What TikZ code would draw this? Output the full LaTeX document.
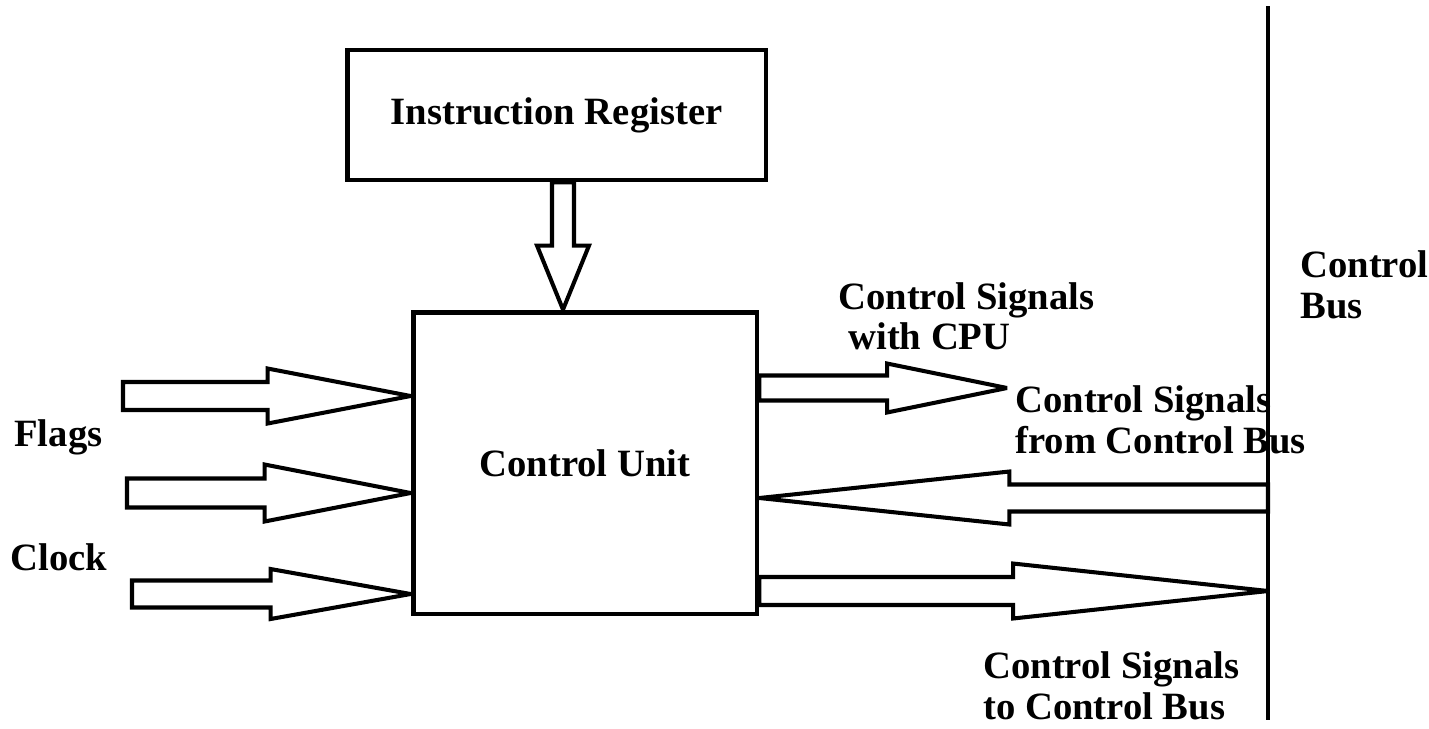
\documentclass[tikz,border=0pt]{standalone}
\usepackage{fontspec}
\setmainfont{Liberation Serif}
\usetikzlibrary{calc}

% hollow block arrow: start, tip, shaft half width, head half width, head length
\newcommand\blockarrow[5]{%
  \path (#1) coordinate (ba-s) (#2) coordinate (ba-t);
  \path ($(ba-t)!#5!(ba-s)$) coordinate (ba-h);
  \draw[hollow] ($(ba-s)!#3!90:(ba-t)$) -- ($(ba-h)!#3!90:(ba-t)$)
    -- ($(ba-h)!#4!90:(ba-t)$) -- (ba-t) -- ($(ba-h)!#4!-90:(ba-t)$)
    -- ($(ba-h)!#3!-90:(ba-t)$) -- ($(ba-s)!#3!-90:(ba-t)$) -- cycle;
}

\tikzset{
  box/.style={draw,line width=2.8pt,inner sep=0pt},
  hollow/.style={line width=2.3pt,line join=miter,miter limit=2,fill=white},
  lbl/.style={inner sep=0pt,anchor=west,align=left},
}

\begin{document}
\begin{tikzpicture}[x=0.02cm,y=-0.02cm,font=\fontsize{22}{23}\selectfont\bfseries]
	\useasboundingbox (0,0) rectangle (1429,728);
	
	%BOXES
	\node[box,minimum width=8.38cm,minimum height=2.6cm] (ir) at (556.5,115) {Instruction Register};
	\node[box,minimum width=6.88cm,minimum height=6.04cm] (cu) at (585,463) {Control Unit};
	
	%CONTROL BUS
	\coordinate (bustop) at (1268,6);
	\coordinate (busbot) at (1268,720);
	\draw[line width=2.8pt] (bustop)--(busbot);
	\coordinate (busin) at (1268,498);
	\coordinate (busout) at (1268,591);
	\coordinate (cpuout) at (1007,388);
	
	%INPUTS
	\coordinate (inA) at (123,396);
	\coordinate (inB) at (127,493);
	\coordinate (inC) at (132,594);
	\foreach \n/\sw/\hw/\hl in {inA/0.28/0.55/2.86,inB/0.29/0.57/2.92,inC/0.27/0.5/2.8}{
		\blockarrow{\n}{cu.west |- \n}{\sw cm}{\hw cm}{\hl cm}
	}
	
	%OUTPUTS
	\blockarrow{cu.east |- cpuout}{cpuout}{0.25cm}{0.49cm}{2.4cm}
	\blockarrow{busin}{cu.east |- busin}{0.27cm}{0.53cm}{5cm}
	\blockarrow{cu.east |- busout}{busout}{0.28cm}{0.55cm}{5.1cm}
	
	%IR TO CU
	\path (ir.south) ++(6.5,0) coordinate (irout);
	\blockarrow{irout}{cu.north -| irout}{0.22cm}{0.52cm}{1.28cm}
	
	%LABELS
	\node[lbl] (flags) at (14,437) {Flags};
	\node[lbl] (clock) at (10,557) {Clock};
	\node[lbl] (cpulbl) at (838,316) {Control Signals\\\hspace*{0.2cm}with CPU};
	\node[lbl] (fromlbl) at (1015,420) {Control Signals\\from Control Bus};
	\node[lbl] (tolbl) at (983,686) {Control Signals\\to Control Bus};
	\node[lbl] (buslbl) at (1300,285) {Control\\Bus};
\end{tikzpicture}
\end{document}
